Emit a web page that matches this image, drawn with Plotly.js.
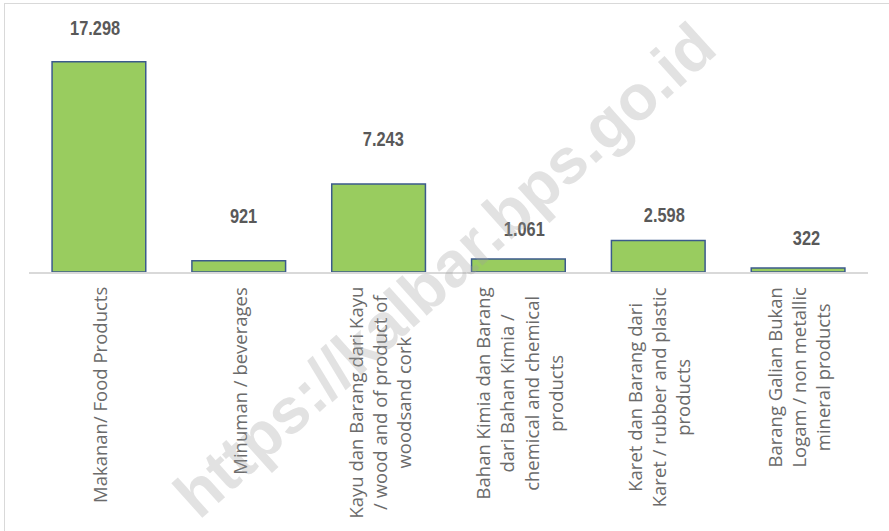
<!DOCTYPE html>
<html>
<head>
<meta charset="utf-8">
<script src="https://cdn.plot.ly/plotly-3.0.1.min.js"></script>
<style>
  html, body { margin: 0; padding: 0; background: #fff; overflow: hidden; }
  #wrap { position: relative; width: 889px; height: 531px; overflow: hidden; }
  #frame { position: absolute; left: 4px; top: 3px; width: 1000px; height: 1000px;
           border-left: 1px solid #d9d9d9; border-top: 1px solid #d9d9d9; }
  #chart { position: absolute; left: 0; top: 0; width: 889px; height: 531px; }
</style>
</head>
<body>
<div id="wrap">
  <div id="frame"></div>
  <div id="chart"></div>
</div>
<script>
// ---- data ----
const categories = [
  "Makanan/ Food Products",
  "Minuman / beverages",
  "Kayu dan Barang dari Kayu<br>/ wood and of product of<br>woodsand cork",
  "Bahan Kimia dan Barang<br>dari Bahan Kimia /<br>chemical and chemical<br>products",
  "Karet dan Barang dari<br>Karet / rubber and plastic<br>products",
  "Barang Galian Bukan<br>Logam / non metallic<br>mineral products"
];
const values = [17298, 921, 7243, 1061, 2598, 322];
const valueLabels = ["17.298", "921", "7.243", "1.061", "2.598", "322"];
const watermark = "https://kalbar.bps.go.id";

// ---- label placement tweaks (pixels, style only) ----
const labelYShift = [34, 45, 46, 31, 26, 31];
const labelXShift = [-3, 5, 5, 6, 6, 8];

const keys = categories.map((c, i) => "c" + i);

const trace = {
  type: "bar",
  x: keys,
  y: values,
  marker: { color: "#99CC5F", line: { color: "#3B5A8C", width: 1.5 } },
  hoverinfo: "skip"
};

const annotations = [];
values.forEach((v, i) => {
  annotations.push({
    x: keys[i], y: v, xref: "x", yref: "y",
    text: valueLabels[i], showarrow: false,
    xanchor: "center", yanchor: "middle",
    xshift: labelXShift[i], yshift: labelYShift[i],
    font: { family: "'Liberation Sans', Arial, sans-serif", size: 21, color: "#595959", weight: "bold" }
  });
  annotations.push({
    x: keys[i], y: 0, xref: "x", yref: "paper",
    text: categories[i], showarrow: false,
    textangle: -90, align: "center",
    xanchor: "center", yanchor: "top", yshift: -13,
    font: { family: "'Open Sans', sans-serif", size: 18.5, color: "#6b6b6b" }
  });
});
annotations.push({
  x: 0.495, y: 0.01, xref: "paper", yref: "paper",
  text: watermark, showarrow: false,
  textangle: -42, xanchor: "center", yanchor: "middle",
  font: { family: "'Liberation Sans', Arial, sans-serif", size: 64, color: "rgba(160,160,160,0.3)", weight: "bold" }
});

const layout = {
  width: 889, height: 531,
  margin: { l: 29, r: 21, t: 29, b: 259, pad: 0 },
  paper_bgcolor: "rgba(0,0,0,0)",
  plot_bgcolor: "rgba(0,0,0,0)",
  bargap: 0.33,
  showlegend: false,
  xaxis: {
    type: "category", showticklabels: false, ticks: "",
    showgrid: false, zeroline: false,
    showline: true, linecolor: "#d9d9d9", linewidth: 1.5
  },
  yaxis: {
    range: [0, 20000], visible: false, showgrid: false, zeroline: false
  },
  annotations: annotations
};

Plotly.newPlot("chart", [trace], layout, { staticPlot: true, displayModeBar: false }).then(function (gd) {
  // condense the value labels horizontally (narrow bold look)
  const texts = gd.querySelectorAll("g.annotation text.annotation-text");
  texts.forEach(function (t) {
    if (valueLabels.indexOf(t.textContent) === -1) return;
    const bb = t.getBBox();
    const cx = bb.x + bb.width / 2;
    t.setAttribute("transform", "translate(" + cx + ",0) scale(0.78,1) translate(" + (-cx) + ",0)");
  });
});
</script>
</body>
</html>
